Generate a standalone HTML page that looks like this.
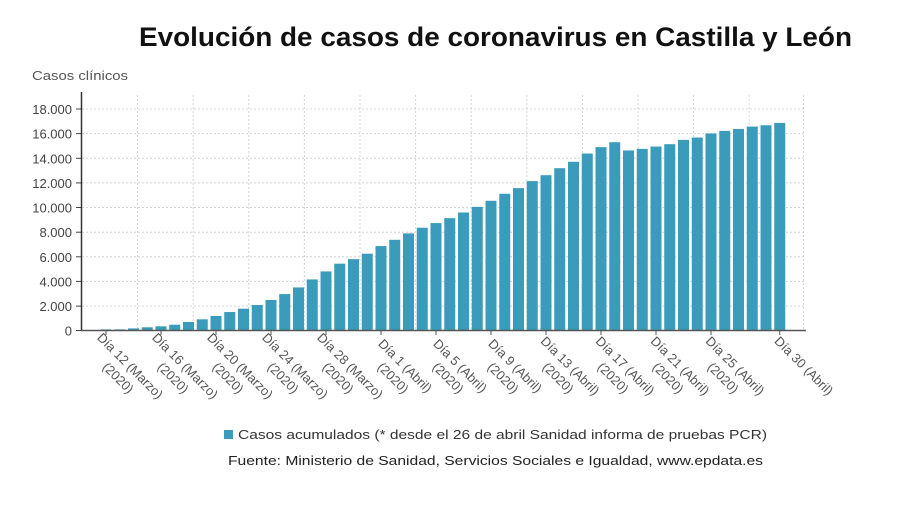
<!DOCTYPE html>
<html><head><meta charset="utf-8"><style>
html,body{margin:0;padding:0;background:#fff;}
svg{display:block;font-family:"Liberation Sans","DejaVu Sans",sans-serif;}
</style></head><body>
<svg width="899" height="510" viewBox="0 0 899 510" xmlns="http://www.w3.org/2000/svg">
<text x="139" y="46" font-size="27" font-weight="bold" fill="#111" textLength="713" lengthAdjust="spacingAndGlyphs">Evolución de casos de coronavirus en Castilla y León</text>
<text x="32" y="80" font-size="13" fill="#555" textLength="96" lengthAdjust="spacingAndGlyphs">Casos clínicos</text>
<g id="grid" stroke="#d4d4d4" stroke-width="1" stroke-dasharray="2,2">
<script>/*placeholder*/</script>
</g>
<g stroke="#d4d4d4" stroke-width="1" stroke-dasharray="2,2">
<line x1="82" y1="109" x2="804" y2="109"/><line x1="82" y1="133.6" x2="804" y2="133.6"/><line x1="82" y1="158.3" x2="804" y2="158.3"/><line x1="82" y1="182.9" x2="804" y2="182.9"/><line x1="82" y1="207.5" x2="804" y2="207.5"/><line x1="82" y1="232.2" x2="804" y2="232.2"/><line x1="82" y1="256.8" x2="804" y2="256.8"/><line x1="82" y1="281.4" x2="804" y2="281.4"/><line x1="82" y1="306.1" x2="804" y2="306.1"/>
<line x1="137.6" y1="95" x2="137.6" y2="330"/><line x1="193.2" y1="95" x2="193.2" y2="330"/><line x1="248.8" y1="95" x2="248.8" y2="330"/><line x1="304.4" y1="95" x2="304.4" y2="330"/><line x1="360" y1="95" x2="360" y2="330"/><line x1="415.6" y1="95" x2="415.6" y2="330"/><line x1="471.2" y1="95" x2="471.2" y2="330"/><line x1="526.8" y1="95" x2="526.8" y2="330"/><line x1="582.4" y1="95" x2="582.4" y2="330"/><line x1="638" y1="95" x2="638" y2="330"/><line x1="693.6" y1="95" x2="693.6" y2="330"/><line x1="749.2" y1="95" x2="749.2" y2="330"/><line x1="803.5" y1="95" x2="803.5" y2="330"/>
</g>
<g fill="#3a9cba" id="bars"></g>
<g font-size="13" fill="#444" text-anchor="end">
<text x="72" y="114">18.000</text><text x="72" y="138.6">16.000</text><text x="72" y="163.3">14.000</text><text x="72" y="187.9">12.000</text><text x="72" y="212.5">10.000</text><text x="72" y="237.2">8.000</text><text x="72" y="261.8">6.000</text><text x="72" y="286.4">4.000</text><text x="72" y="311.1">2.000</text><text x="72" y="335.5">0</text>
</g>
<g stroke="#444" stroke-width="1">
<line x1="76" y1="109" x2="81" y2="109"/><line x1="76" y1="133.6" x2="81" y2="133.6"/><line x1="76" y1="158.3" x2="81" y2="158.3"/><line x1="76" y1="182.9" x2="81" y2="182.9"/><line x1="76" y1="207.5" x2="81" y2="207.5"/><line x1="76" y1="232.2" x2="81" y2="232.2"/><line x1="76" y1="256.8" x2="81" y2="256.8"/><line x1="76" y1="281.4" x2="81" y2="281.4"/><line x1="76" y1="306.1" x2="81" y2="306.1"/><line x1="76" y1="330.5" x2="81" y2="330.5"/>
</g>
<g id="xlab" font-size="13" fill="#555" text-anchor="middle"></g>
<line x1="81.5" y1="92" x2="81.5" y2="331" stroke="#333" stroke-width="1.5"/>
<line x1="81" y1="330.5" x2="806" y2="330.5" stroke="#555" stroke-width="1.5"/>
<g id="ticks" stroke="#555" stroke-width="1"></g>
<rect x="224" y="430" width="9" height="9" fill="#3a9cba"/>
<text x="238" y="439" font-size="13" fill="#333" textLength="529" lengthAdjust="spacingAndGlyphs">Casos acumulados (* desde el 26 de abril Sanidad informa de pruebas PCR)</text>
<text x="228" y="465" font-size="13" fill="#222" textLength="535" lengthAdjust="spacingAndGlyphs">Fuente: Ministerio de Sanidad, Servicios Sociales e Igualdad, www.epdata.es</text>
</svg>
<script>
var v=[50,50,130,220,300,430,650,870,1140,1460,1730,2030,2440,2920,3460,4110,4760,5390,5760,6200,6820,7330,7850,8310,8690,9090,9550,10010,10500,11070,11530,12100,12580,13150,13670,14340,14860,15260,14590,14720,14910,15100,15450,15640,15970,16180,16340,16530,16640,16830];
var ns="http://www.w3.org/2000/svg";
var b=document.getElementById("bars"),xl=document.getElementById("xlab"),tk=document.getElementById("ticks");
var s=221.5/18000;
for(var i=0;i<v.length;i++){var cx=106+13.75*i;var h=v[i]*s;var r=document.createElementNS(ns,"rect");r.setAttribute("x",cx-5.5);r.setAttribute("y",330-h);r.setAttribute("width",11);r.setAttribute("height",h);b.appendChild(r);}
var labs=[[0,"Día 12 (Marzo)",1],[4,"Día 16 (Marzo)",1],[8,"Día 20 (Marzo)",1],[12,"Día 24 (Marzo)",1],[16,"Día 28 (Marzo)",1],[20,"Día 1 (Abril)",1],[24,"Día 5 (Abril)",1],[28,"Día 9 (Abril)",1],[32,"Día 13 (Abril)",1],[36,"Día 17 (Abril)",1],[40,"Día 21 (Abril)",1],[44,"Día 25 (Abril)",1],[49,"Día 30 (Abril)",0]];
labs.forEach(function(l){var cx=106+13.75*l[0];
var ln=document.createElementNS(ns,"line");ln.setAttribute("x1",cx);ln.setAttribute("x2",cx);ln.setAttribute("y1",331);ln.setAttribute("y2",335);tk.appendChild(ln);
var g=document.createElementNS(ns,"g");g.setAttribute("transform","translate("+(cx+21)+",369) rotate(45)");
var t=document.createElementNS(ns,"text");t.setAttribute("x",0);t.setAttribute("y",0);t.textContent=l[1];g.appendChild(t);
if(l[2]){var t2=document.createElementNS(ns,"text");t2.setAttribute("x",0);t2.setAttribute("y",17);t2.textContent="(2020)";g.appendChild(t2);}
xl.appendChild(g);});
</script>
</body></html>
